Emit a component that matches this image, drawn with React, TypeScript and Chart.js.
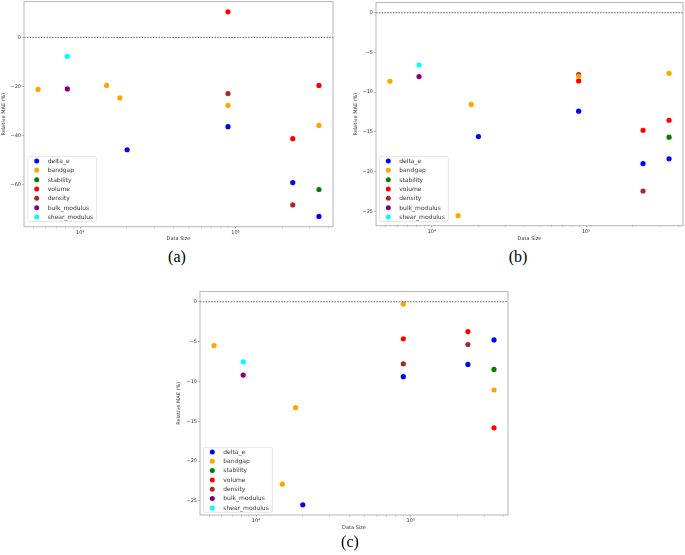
import React, { useEffect, useRef } from "react";
import { Chart, registerables } from "chart.js";
Chart.register(...registerables);

// ---------- data ----------
const seriesNames = ["delta_e", "bandgap", "stability", "volume", "density", "bulk_modulus", "shear_modulus"];
const seriesColors = ["#0000ff", "#ffa500", "#008000", "#ff0000", "#a52a2a", "#800080", "#00ffff"];

// data sizes (x) for each series
const deltaESizes = [20050, 89500, 234000, 345000];
const bandgapSizes = [5350, 14800, 18000, 89500, 345000];
const stabilitySizes = [345000];
const volumeSizes = [89500, 234000, 345000];
const densitySizes = [89500, 234000];
const bulkSizes = [8260];
const shearSizes = [8260];

// panel (a) relative MAE (%)
const aDeltaE = [-45.8, -36.4, -59.2, -73.0];
const aBandgap = [-21.2, -19.6, -24.7, -27.7, -35.9];
const aStability = [-62.0];
const aVolume = [10.4, -41.3, -19.6];
const aDensity = [-22.9, -68.3];
const aBulk = [-21.0];
const aShear = [-7.75];

// panel (b)
const bDeltaE = [-15.6, -12.4, -19.0, -18.4];
const bBandgap = [-8.63, -25.54, -11.54, -8.0, -7.62];
const bStability = [-15.67];
const bVolume = [-8.58, -14.8, -13.54];
const bDensity = [-7.79, -22.45];
const bBulk = [-8.04];
const bShear = [-6.58];

// panel (c)
const cDeltaE = [-25.5, -9.41, -7.87, -4.79];
const cBandgap = [-5.5, -22.9, -13.3, -0.29, -11.08];
const cStability = [-8.5];
const cVolume = [-4.66, -3.75, -15.83];
const cDensity = [-7.79, -5.37];
const cBulk = [-9.2];
const cShear = [-7.54];

// ticks
const xTickValues = [5000, 6000, 7000, 8000, 9000, 10000, 20000, 30000, 40000, 50000, 60000, 70000, 80000, 90000, 100000, 200000, 300000, 400000];
const xMajorValues = [10000, 100000];
const xMajorLabels = ["10⁴", "10⁵"];
const aYTicks = [0, -20, -40, -60];
const bYTicks = [0, -5, -10, -15, -20, -25];
const cYTicks = [0, -5, -10, -15, -20, -25];

const panelLabels = ["(a)", "(b)", "(c)"];
const xTitle = "Data Size";
const yTitle = "Relative MAE (%)";

const allSizes = [deltaESizes, bandgapSizes, stabilitySizes, volumeSizes, densitySizes, bulkSizes, shearSizes];

const FONT = "'DejaVu Sans', sans-serif";

type Geo = {
  cLeft: number; cTop: number; cRight: number; cBottom: number;
  yTitleX: number; xTitleY: number; legDx: number; legDy: number;
};

function PanelChart({ values, yTicks, geo }: { values: number[][]; yTicks: number[]; geo: Geo }) {
  const ref = useRef<HTMLCanvasElement | null>(null);
  const yW = 26;
  const left = geo.cLeft - yW;
  const top = geo.cTop - 2;
  const width = geo.cRight - left + 4;
  const height = geo.xTitleY + 8 - top;
  const tickFont = 5;
  const lh = tickFont * 1.2;

  useEffect(() => {
    if (!ref.current) return;
    // axis limits like matplotlib autoscale (5% margins, zero line included)
    const allY = values.flat().concat([0]);
    const yMin = Math.min(...allY), yMax = Math.max(...allY);
    const yPad = (yMax - yMin) * 0.05;
    const allX = allSizes.flat().map((v) => Math.log10(v));
    const lxMin = Math.min(...allX), lxMax = Math.max(...allX);
    const xPad = (lxMax - lxMin) * 0.05;

    const datasets = seriesNames.map((name, i) => ({
      label: name,
      data: allSizes[i].map((s, j) => ({ x: s, y: values[i][j] })),
      backgroundColor: seriesColors[i],
      borderWidth: 0,
      pointRadius: 2.6,
      pointHoverRadius: 2.6,
    }));

    const framePlugin = {
      id: "frame",
      afterDatasetsDraw(chart: any) {
        const { ctx, chartArea: a, scales } = chart;
        ctx.save();
        // zero line
        const y0 = scales.y.getPixelForValue(0);
        ctx.strokeStyle = "#222";
        ctx.lineWidth = 0.7;
        ctx.setLineDash([1.6, 1.2]);
        ctx.beginPath();
        ctx.moveTo(a.left, y0);
        ctx.lineTo(a.right, y0);
        ctx.stroke();
        ctx.setLineDash([]);
        // frame
        ctx.strokeStyle = "#b4b4b4";
        ctx.lineWidth = 1;
        ctx.strokeRect(a.left, a.top, a.right - a.left, a.bottom - a.top);
        // legend
        const bw = 69, bh = 65;
        const bx = a.left + geo.legDx, by = a.bottom - geo.legDy - bh;
        ctx.fillStyle = "rgba(255,255,255,0.85)";
        ctx.strokeStyle = "#dddddd";
        ctx.lineWidth = 0.8;
        ctx.beginPath();
        (ctx as any).roundRect(bx, by, bw, bh, 2);
        ctx.fill();
        ctx.stroke();
        ctx.font = `6px ${FONT}`;
        ctx.textBaseline = "middle";
        ctx.textAlign = "left";
        chart.data.datasets.forEach((ds: any, i: number) => {
          const cy = by + 4.6 + i * 9.33;
          ctx.fillStyle = ds.backgroundColor;
          ctx.beginPath();
          ctx.arc(bx + 9, cy, 2.5, 0, Math.PI * 2);
          ctx.fill();
          ctx.fillStyle = "#333";
          ctx.fillText(ds.label, bx + 20, cy + 0.3);
        });
        ctx.restore();
      },
    };

    const chart = new Chart(ref.current, {
      type: "scatter",
      data: { datasets },
      options: {
        animation: false,
        responsive: false,
        devicePixelRatio: 1,
        events: [],
        layout: { padding: { left: 0, top: 2, right: 4, bottom: 0 } },
        plugins: { legend: { display: false }, tooltip: { enabled: false } },
        scales: {
          x: {
            type: "logarithmic",
            min: Math.pow(10, lxMin - xPad),
            max: Math.pow(10, lxMax + xPad),
            border: { display: false },
            grid: {
              drawOnChartArea: false,
              drawTicks: true,
              tickLength: 1.6,
              tickColor: (c: any) => (xMajorValues.includes(c.tick?.value) ? "#888" : "#bbb"),
              tickWidth: 0.8,
            },
            afterBuildTicks: (s: any) => {
              s.ticks = xTickValues.map((v) => ({ value: v, major: xMajorValues.includes(v) }));
            },
            afterFit: (s: any) => {
              s.height = height - (geo.cBottom - top);
              s.paddingLeft = 0;
              s.paddingRight = 0;
            },
            ticks: {
              autoSkip: false,
              maxRotation: 0,
              padding: 1.2,
              color: "#333",
              font: { family: FONT, size: tickFont },
              callback: (v: any) => {
                const k = xMajorValues.indexOf(Number(v));
                return k >= 0 ? xMajorLabels[k] : "";
              },
            },
            title: {
              display: true,
              text: xTitle,
              color: "#333",
              font: { family: FONT, size: tickFont },
              padding: { top: 0, bottom: top + height - geo.xTitleY - lh / 2 },
            },
          },
          y: {
            type: "linear",
            min: yMin - yPad,
            max: yMax + yPad,
            border: { display: false },
            grid: {
              drawOnChartArea: false,
              drawTicks: true,
              tickLength: 1.6,
              tickColor: "#888",
              tickWidth: 0.8,
            },
            afterBuildTicks: (s: any) => {
              s.ticks = yTicks.map((v) => ({ value: v }));
            },
            afterFit: (s: any) => {
              s.width = yW;
              s.paddingTop = 0;
              s.paddingBottom = 0;
            },
            ticks: {
              autoSkip: false,
              padding: 1.4,
              color: "#333",
              font: { family: FONT, size: tickFont },
              callback: (v: any) => (Number(v) < 0 ? "−" + Math.abs(Number(v)) : String(v)),
            },
            title: {
              display: true,
              text: yTitle,
              color: "#333",
              font: { family: FONT, size: tickFont },
              padding: { top: geo.yTitleX - left - lh / 2, bottom: 0 },
            },
          },
        },
      },
      plugins: [framePlugin],
    } as any);
    return () => chart.destroy();
  }, []);

  return (
    <canvas
      ref={ref}
      width={width}
      height={height}
      style={{ position: "absolute", left, top, width, height }}
    />
  );
}

const geos: Geo[] = [
  { cLeft: 24, cTop: 1, cRight: 333, cBottom: 227, yTitleX: 4.2, xTitleY: 239.3, legDx: 3.7, legDy: 5.3 },
  { cLeft: 375.7, cTop: 1.5, cRight: 683, cBottom: 226, yTitleX: 355, xTitleY: 239.3, legDx: 3.3, legDy: 4.3 },
  { cLeft: 200, cTop: 290.5, cRight: 508.3, cBottom: 515, yTitleX: 178.3, xTitleY: 528, legDx: 3.3, legDy: 2.7 },
];
const captionPos = [
  [177, 257],
  [518, 257],
  [350, 542],
];

export default function App() {
  const panels = [
    [aDeltaE, aBandgap, aStability, aVolume, aDensity, aBulk, aShear],
    [bDeltaE, bBandgap, bStability, bVolume, bDensity, bBulk, bShear],
    [cDeltaE, cBandgap, cStability, cVolume, cDensity, cBulk, cShear],
  ];
  const ticks = [aYTicks, bYTicks, cYTicks];
  return (
    <div style={{ position: "fixed", left: 0, top: 0, width: 685, height: 555, background: "#fff", overflow: "hidden" }}>
      {panels.map((p, i) => (
        <PanelChart key={i} values={p} yTicks={ticks[i]} geo={geos[i]} />
      ))}
      {panelLabels.map((t, i) => (
        <div
          key={t}
          style={{
            position: "absolute",
            left: captionPos[i][0] - 30,
            top: captionPos[i][1] - 10,
            width: 60,
            height: 20,
            lineHeight: "20px",
            textAlign: "center",
            fontFamily: "'Liberation Serif', 'Times New Roman', serif",
            fontSize: 16,
            color: "#000",
          }}
        >
          {t}
        </div>
      ))}
    </div>
  );
}
